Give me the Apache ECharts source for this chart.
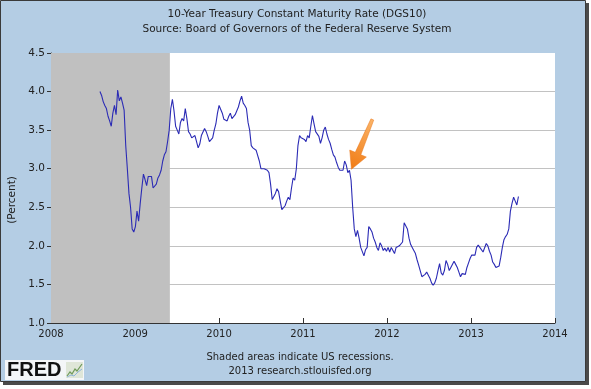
<!DOCTYPE html>
<html>
<head>
<meta charset="utf-8">
<script src="https://cdn.jsdelivr.net/npm/echarts@6/dist/echarts.min.js"></script>
<style>
html,body{margin:0;padding:0;background:#fff;}
#c{width:591px;height:389px;}
</style>
</head>
<body>
<div id="c"></div>
<script>
// Weekly 10-year Treasury yields (percent), weeks ending Friday
const start2008 = '2008-08-01';
const v2008 = [4.00,3.95,3.87,3.82,3.78, 3.68,3.62,3.55,3.72, 3.82,3.70,4.02,3.88,3.93, 3.85,3.76,3.30,3.00, 2.68,2.50,2.22,2.18];
const start2009 = '2009-01-02';
const v2009 = [2.25,2.45,2.32,2.55,2.75, 2.93,2.86,2.78,2.90, 2.88,2.90,2.75,2.74, 2.80,2.88,2.92,2.98, 3.10,3.18,3.22,3.35,3.50,
  3.78,3.90,3.75,3.55, 3.50,3.45,3.60,3.65,3.62, 3.78,3.65,3.48,3.45, 3.40,3.38,3.43,3.35, 3.27,3.32,3.43,3.45,3.52,
  3.48,3.42,3.35,3.33, 3.40,3.50,3.58,3.72];
const start2010 = '2010-01-01';
const v2010 = [3.82,3.80,3.72,3.64,3.65, 3.62,3.68,3.72,3.65, 3.66,3.70,3.72,3.80, 3.88,3.94,3.85,3.82,3.78, 3.60,3.50,3.30,3.27,
  3.26,3.24,3.22,3.10, 3.00,3.02,3.00,3.01,2.98, 2.95,2.80,2.60,2.62, 2.68,2.74,2.70,2.58, 2.47,2.45,2.52,2.58,2.63,
  2.60,2.75,2.88,2.85, 3.00,3.30,3.43,3.40,3.38];
const start2011 = '2011-01-07';
const v2011 = [3.38,3.35,3.43,3.40, 3.55,3.69,3.58,3.48, 3.50,3.42,3.33,3.40, 3.50,3.54,3.45,3.38,3.33, 3.25,3.18,3.15,3.08,
  3.02,2.98,2.97,2.98, 3.10,3.05,2.95,2.98,2.85, 2.50,2.22,2.12,2.20, 2.10,1.98,2.00,1.87,1.95, 1.98,2.25,2.22,2.18,
  2.10,2.05,1.98,1.94, 2.04,2.00,1.94,1.97,1.93];
const start2012 = '2012-01-06';
const v2012 = [1.98,1.92,1.98,1.94, 1.90,1.98,1.98,2.00, 1.98,2.05,2.30,2.30,2.22, 2.10,2.02,1.98,1.96, 1.90,1.82,1.75,1.74,
  1.60,1.62,1.63,1.66,1.62, 1.58,1.52,1.49,1.52, 1.58,1.68,1.77,1.65,1.62, 1.68,1.81,1.76,1.68, 1.72,1.70,1.80,1.76,
  1.72,1.66,1.60,1.64,1.62, 1.63,1.72,1.78,1.84];
const start2013 = '2013-01-04';
const v2013 = [1.88,1.90,1.88,1.98, 2.01,1.98,2.00,1.92, 1.90,2.03,2.00,1.93,1.88, 1.79,1.76,1.72,1.70, 1.74,1.85,1.98,2.08,2.12,
  2.15,2.22,2.45,2.55, 2.63,2.58,2.53,2.64];

const recession = ['2008-01-01', '2009-06-01'];
const yTicks = [1.0,1.5,2.0,2.5,3.0,3.5,4.0,4.5];
const xRange = ['2008-01-01', '2014-01-01'];
const arrowAt = ['2011-07-22', 2.98];

const titleText = '10-Year Treasury Constant Maturity Rate (DGS10)';
const subText = 'Source: Board of Governors of the Federal Reserve System';
const note1 = 'Shaded areas indicate US recessions.';
const note2 = '2013 research.stlouisfed.org';

function weekly(start, vals) {
  const p = start.split('-').map(Number);
  return vals.map((v, i) => [new Date(p[0], p[1]-1, p[2] + 7*i).getTime(), v]);
}
const data = [].concat(
  weekly(start2008, v2008), weekly(start2009, v2009), weekly(start2010, v2010),
  weekly(start2011, v2011), weekly(start2012, v2012), weekly(start2013, v2013));

function ts(s){ const p = s.split('-').map(Number); return new Date(p[0], p[1]-1, p[2]).getTime(); }

const FONT = 'DejaVu Sans';
const chart = echarts.init(document.getElementById('c'), null, {renderer:'canvas'});
const YEAR = 365*24*3600*1000;
const GRID = {left: 51, right: 36, top: 53, bottom: 66};
const gridColors = yTicks.map((t, i) => i === yTicks.length - 1 ? 'rgba(0,0,0,0)' : '#c2c2c2');

chart.setOption({
  animation: false,
  backgroundColor: '#ffffff',
  grid: {left: GRID.left, right: GRID.right, top: GRID.top, bottom: GRID.bottom, show: false},
  xAxis: {
    type: 'time', min: ts(xRange[0]), max: ts(xRange[1]),
    minInterval: YEAR, maxInterval: YEAR*1.01,
    axisLine: {show: true, lineStyle: {color: '#333', width: 1}},
    axisTick: {show: true, inside: true, length: 5, lineStyle: {color: '#333'}},
    axisLabel: {formatter: '{yyyy}', color: '#222', fontFamily: FONT, fontSize: 10, margin: 6, showMinLabel: true, showMaxLabel: true},
    splitLine: {show: false}
  },
  yAxis: {
    type: 'value', min: yTicks[0], max: yTicks[yTicks.length-1], interval: 0.5,
    axisLine: {show: true, lineStyle: {color: '#333', width: 1}},
    axisTick: {show: true, inside: false, length: 4, lineStyle: {color: '#333'}},
    axisLabel: {formatter: v => v.toFixed(1), color: '#222', fontFamily: FONT, fontSize: 10.5, margin: 6},
    splitLine: {show: true, lineStyle: {color: gridColors, width: 1.2}}
  },
  series: [{
    type: 'line', data: data, showSymbol: false, symbol: 'none',
    lineStyle: {color: '#2b2bb5', width: 1.1},
    z: 3,
    markArea: {
      silent: true,
      itemStyle: {color: '#c0c0c0', opacity: 1},
      data: [[{xAxis: ts(recession[0])}, {xAxis: ts(recession[1])}]]
    }
  }]
});

const tip = chart.convertToPixel({gridIndex: 0}, [ts(arrowAt[0]), arrowAt[1]]);
const tx = tip[0] + 2, ty = tip[1] - 1;
const arrowPts = [[0,0],[14.9,-12.2],[9.4,-14.5],[22.3,-49.2],[19.5,-50.4],[3.8,-16.9],[-1.7,-19.2]];
const pw = 591 - GRID.left - GRID.right, ph = 389 - GRID.top - GRID.bottom;

chart.setOption({
  graphic: [
    {type: 'rect', z: -10, silent: true, shape: {x: 3, y: 3, width: 586, height: 382}, style: {fill: '#4a4a4a'}},
    {type: 'rect', z: -9, silent: true, shape: {x: 0.5, y: 0.5, width: 585, height: 381}, style: {fill: '#b4cde4', stroke: '#3a3a3a', lineWidth: 1}},
    {type: 'rect', z: -8, silent: true, shape: {x: GRID.left, y: GRID.top, width: pw, height: ph}, style: {fill: '#ffffff'}},
    {type: 'text', silent: true, x: 297, y: 14, style: {text: titleText, font: '10.5px "DejaVu Sans"', fill: '#222', textAlign: 'center', textVerticalAlign: 'middle'}},
    {type: 'text', silent: true, x: 297, y: 29, style: {text: subText, font: '10.5px "DejaVu Sans"', fill: '#222', textAlign: 'center', textVerticalAlign: 'middle'}},
    {type: 'text', silent: true, x: 12, y: 200, rotation: Math.PI/2, style: {text: '(Percent)', font: '10.5px "DejaVu Sans"', fill: '#222', textAlign: 'center', textVerticalAlign: 'middle'}},
    {type: 'text', silent: true, x: 300, y: 357, style: {text: note1, font: '10px "DejaVu Sans"', fill: '#222', textAlign: 'center', textVerticalAlign: 'middle'}},
    {type: 'text', silent: true, x: 300, y: 371, style: {text: note2, font: '10px "DejaVu Sans"', fill: '#222', textAlign: 'center', textVerticalAlign: 'middle'}},
    {type: 'rect', silent: true, shape: {x: 5, y: 360, width: 79, height: 20}, style: {fill: '#f4f6f8'}},
    {type: 'text', silent: true, x: 7, y: 370, style: {text: 'FRED', font: 'bold 20px "Liberation Sans"', fill: '#111', textAlign: 'left', textVerticalAlign: 'middle'}},
    {type: 'rect', silent: true, shape: {x: 66, y: 362, width: 17, height: 16}, style: {fill: '#dfe6d8'}},
    {type: 'polyline', silent: true, shape: {points: [[67,376],[70,372],[72,374],[75,369],[77,371],[82,364]]}, style: {stroke: '#6f9a5a', lineWidth: 1.2, fill: null}},
    {type: 'polyline', silent: true, shape: {points: [[67,377],[71,375],[74,376],[78,372],[82,369]]}, style: {stroke: '#8fb4d8', lineWidth: 1, fill: null}},
    {type: 'polygon', silent: true, z: 100, x: tx, y: ty, shape: {points: arrowPts},
      style: {fill: new echarts.graphic.LinearGradient(1, 0, 0, 1, [{offset: 0, color: '#fbb56a'}, {offset: 1, color: '#f07a12'}]), stroke: '#e8761a', lineWidth: 0.5}}
  ]
});
</script>
</body>
</html>
